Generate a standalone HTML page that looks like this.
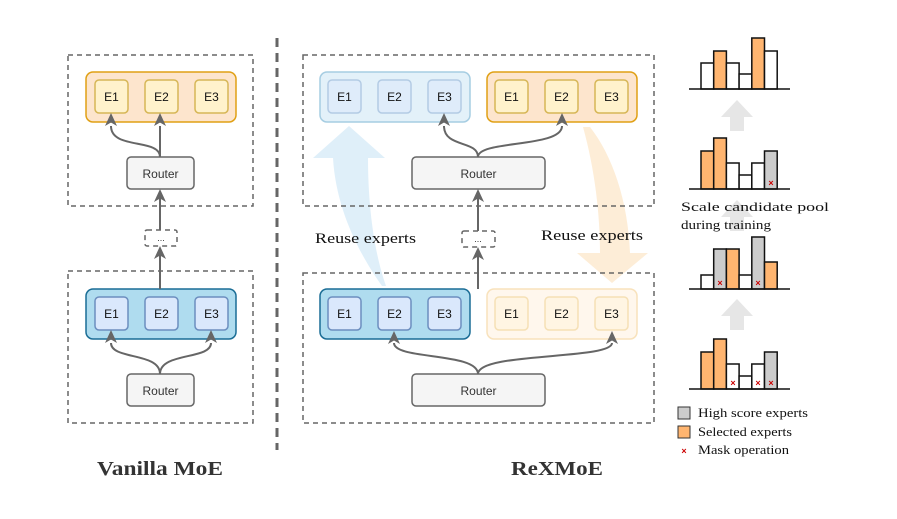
<!DOCTYPE html>
<html><head><meta charset="utf-8"><style>
html,body{margin:0;padding:0;background:#fff;}
svg{display:block}
.sans{font-family:"Liberation Sans",Helvetica,sans-serif;}
.serif{font-family:"Liberation Serif","DejaVu Serif",serif;}
</style></head><body>
<svg width="897" height="519" viewBox="0 0 897 519" xmlns="http://www.w3.org/2000/svg">
<defs>
<g id="hd"><path d="M0,0 L-6,13 L0,9.5 L6,13 Z" fill="#666"/></g>
</defs>

<!-- big reuse arrows -->
<path d="M349,126 L385,158 L368,158 C368,210 375,255 386,286 L382,286 C360,255 336,210 333,158 L313,158 Z" fill="#dcedf8" opacity="0.9"/>
<path d="M583,127 C595,170 600,215 600,253 L577,253 L612,283 L648,253 L630,253 C628,200 612,155 590,127 Z" fill="#fdebd3" opacity="0.9"/>

<!-- divider -->
<line x1="277" y1="38" x2="277" y2="450" stroke="#666" stroke-width="3" stroke-dasharray="9,6"/>

<g fill="none" stroke="#666" stroke-width="1.5" stroke-dasharray="5,4">
<rect x="68" y="55" width="185" height="151"/>
<rect x="68" y="271" width="185" height="152"/>
<rect x="303" y="55" width="351" height="151"/>
<rect x="303" y="273" width="351" height="150"/>
<rect x="145" y="230" width="32" height="16" rx="2"/>
<rect x="462" y="231" width="33" height="16" rx="2"/>
</g>
<g class="sans" font-size="9" text-anchor="middle" fill="#333">
<text x="161" y="241">...</text><text x="478" y="242">...</text></g>

<!-- groups -->
<rect x="86" y="72" width="150" height="50" rx="7" fill="#fde5cd" stroke="#e0a015" stroke-width="1.5"/>
<rect x="86" y="289" width="150" height="50" rx="7" fill="#afdcef" stroke="#1a6d95" stroke-width="1.5"/>
<rect x="320" y="72" width="150" height="50" rx="7" fill="#e3f1f9" stroke="#a6cde2" stroke-width="1.5"/>
<rect x="487" y="72" width="150" height="50" rx="7" fill="#fde5cd" stroke="#e0a015" stroke-width="1.5"/>
<rect x="320" y="289" width="150" height="50" rx="7" fill="#afdcef" stroke="#1a6d95" stroke-width="1.5"/>
<rect x="487" y="289" width="150" height="50" rx="7" fill="#fff7ed" stroke="#f8e2bc" stroke-width="1.5"/>

<!-- experts -->
<g stroke-width="1.5">
<g fill="#fff2cc" stroke="#d6b656">
<rect x="95" y="80" width="33" height="33" rx="4"/><rect x="145" y="80" width="33" height="33" rx="4"/><rect x="195" y="80" width="33" height="33" rx="4"/>
<rect x="495" y="80" width="33" height="33" rx="4"/><rect x="545" y="80" width="33" height="33" rx="4"/><rect x="595" y="80" width="33" height="33" rx="4"/>
</g>
<g fill="#dae8fc" stroke="#6c8ebf">
<rect x="95" y="297" width="33" height="33" rx="4"/><rect x="145" y="297" width="33" height="33" rx="4"/><rect x="195" y="297" width="33" height="33" rx="4"/>
<rect x="328" y="297" width="33" height="33" rx="4"/><rect x="378" y="297" width="33" height="33" rx="4"/><rect x="428" y="297" width="33" height="33" rx="4"/>
</g>
<g fill="#dfecfa" stroke="#b3cbe4">
<rect x="328" y="80" width="33" height="33" rx="4"/><rect x="378" y="80" width="33" height="33" rx="4"/><rect x="428" y="80" width="33" height="33" rx="4"/>
</g>
<g fill="#fff5e3" stroke="#f5e0b5">
<rect x="495" y="297" width="33" height="33" rx="4"/><rect x="545" y="297" width="33" height="33" rx="4"/><rect x="595" y="297" width="33" height="33" rx="4"/>
</g>
</g>
<g class="sans" font-size="12" text-anchor="middle" fill="#111">
<text x="111.5" y="101">E1</text><text x="161.5" y="101">E2</text><text x="211.5" y="101">E3</text>
<text x="111.5" y="318">E1</text><text x="161.5" y="318">E2</text><text x="211.5" y="318">E3</text>
<text x="344.5" y="101">E1</text><text x="394.5" y="101">E2</text><text x="444.5" y="101">E3</text>
<text x="511.5" y="101">E1</text><text x="561.5" y="101">E2</text><text x="611.5" y="101">E3</text>
<text x="344.5" y="318">E1</text><text x="394.5" y="318">E2</text><text x="444.5" y="318">E3</text>
<text x="511.5" y="318">E1</text><text x="561.5" y="318">E2</text><text x="611.5" y="318">E3</text>
</g>

<!-- routers -->
<g fill="#f5f5f5" stroke="#666" stroke-width="1.5">
<rect x="127" y="157" width="67" height="32" rx="4"/>
<rect x="127" y="374" width="67" height="32" rx="4"/>
<rect x="412" y="157" width="133" height="32" rx="4"/>
<rect x="412" y="374" width="133" height="32" rx="4"/>
</g>
<g class="sans" font-size="12" text-anchor="middle" fill="#333">
<text x="160.5" y="178">Router</text><text x="160.5" y="395">Router</text>
<text x="478.5" y="178">Router</text><text x="478.5" y="395">Router</text>
</g>

<!-- connectors -->
<g fill="none" stroke="#666" stroke-width="2">
<path d="M160,157 C160,138 111,150 111,126"/>
<path d="M160,157 L160,126"/>
<path d="M160,230 L160,194"/>
<path d="M160,289 L160,250"/>
<path d="M160,374 C160,352 111,360 111,343"/>
<path d="M211,343 C211,360 160,352 160,374"/>
<path d="M478,157 C478,140 444,148 444,126"/>
<path d="M478,157 C478,140 562,148 562,126"/>
<path d="M478,231 L478,194"/>
<path d="M478,289 L478,251"/>
<path d="M478,374 C478,352 394,360 394,343"/>
<path d="M612,343 C612,360 478,352 478,374"/>
</g>
<g>
<use href="#hd" x="111" y="113"/><use href="#hd" x="160" y="113"/>
<use href="#hd" x="160" y="189"/><use href="#hd" x="160" y="246"/>
<use href="#hd" x="111" y="330"/><use href="#hd" x="211" y="330"/>
<use href="#hd" x="444" y="113"/><use href="#hd" x="562" y="113"/>
<use href="#hd" x="478" y="189"/><use href="#hd" x="478" y="247"/>
<use href="#hd" x="394" y="331"/><use href="#hd" x="612" y="331"/>
</g>

<g class="serif" font-size="15" fill="#111">
<text x="315" y="243" textLength="101" lengthAdjust="spacingAndGlyphs">Reuse experts</text>
<text x="541" y="240" textLength="102" lengthAdjust="spacingAndGlyphs">Reuse experts</text>
</g>
<g class="serif" font-size="20" font-weight="bold" fill="#333">
<text x="97" y="475" textLength="126" lengthAdjust="spacingAndGlyphs">Vanilla MoE</text>
<text x="511" y="475" textLength="92" lengthAdjust="spacingAndGlyphs">ReXMoE</text>
</g>

<!-- right side gray arrows -->
<g fill="#e6e6e6">
<path d="M737,100 L753,117 L744,117 L744,131 L730,131 L730,117 L721,117 Z"/>
<path d="M737,200 L753,217 L744,217 L744,231 L730,231 L730,217 L721,217 Z"/>
<path d="M737,299 L753,316 L744,316 L744,330 L730,330 L730,316 L721,316 Z"/>
</g>

<!-- bar charts -->
<g stroke="#111" stroke-width="1.5">
<rect x="701" y="63" width="12.7" height="26" fill="#fff"/>
<rect x="713.7" y="51" width="12.7" height="38" fill="#ffb570"/>
<rect x="726.4" y="63" width="12.7" height="26" fill="#fff"/>
<rect x="739.1" y="74" width="12.7" height="15" fill="#fff"/>
<rect x="751.8" y="38" width="12.7" height="51" fill="#ffb570"/>
<rect x="764.5" y="51" width="12.7" height="38" fill="#fff"/>
<rect x="701" y="151" width="12.7" height="38" fill="#ffb570"/>
<rect x="713.7" y="138" width="12.7" height="51" fill="#ffb570"/>
<rect x="726.4" y="163" width="12.7" height="26" fill="#fff"/>
<rect x="739.1" y="175" width="12.7" height="14" fill="#fff"/>
<rect x="751.8" y="163" width="12.7" height="26" fill="#fff"/>
<rect x="764.5" y="151" width="12.7" height="38" fill="#cccccc"/>
<rect x="701" y="275" width="12.7" height="14" fill="#fff"/>
<rect x="713.7" y="249" width="12.7" height="40" fill="#cccccc"/>
<rect x="726.4" y="249" width="12.7" height="40" fill="#ffb570"/>
<rect x="739.1" y="275" width="12.7" height="14" fill="#fff"/>
<rect x="751.8" y="237" width="12.7" height="52" fill="#cccccc"/>
<rect x="764.5" y="262" width="12.7" height="27" fill="#ffb570"/>
<rect x="701" y="352" width="12.7" height="37" fill="#ffb570"/>
<rect x="713.7" y="339" width="12.7" height="50" fill="#ffb570"/>
<rect x="726.4" y="364" width="12.7" height="25" fill="#fff"/>
<rect x="739.1" y="376" width="12.7" height="13" fill="#fff"/>
<rect x="751.8" y="364" width="12.7" height="25" fill="#fff"/>
<rect x="764.5" y="352" width="12.7" height="37" fill="#cccccc"/>
<line x1="689" y1="89" x2="790" y2="89"/>
<line x1="689" y1="189" x2="790" y2="189"/>
<line x1="689" y1="289" x2="790" y2="289"/>
<line x1="689" y1="389" x2="790" y2="389"/>
<rect x="678" y="407" width="12" height="12" fill="#cccccc" stroke="#333" stroke-width="1"/>
<rect x="678" y="426" width="12" height="12" fill="#ffb570" stroke="#333" stroke-width="1"/>
</g>
<g class="sans" font-size="9" font-weight="bold" fill="#c00" text-anchor="middle">
<text x="771" y="186">×</text>
<text x="720" y="286">×</text><text x="758" y="286">×</text>
<text x="733" y="386">×</text><text x="758" y="386">×</text><text x="771" y="386">×</text>
<text x="684" y="454">×</text>
</g>
<g class="serif" font-size="13" fill="#111">
<text x="681" y="211" textLength="148" lengthAdjust="spacingAndGlyphs">Scale candidate pool</text>
<text x="681" y="229" textLength="90" lengthAdjust="spacingAndGlyphs">during training</text>
<text x="698" y="417" textLength="110" lengthAdjust="spacingAndGlyphs">High score experts</text>
<text x="698" y="436" textLength="94" lengthAdjust="spacingAndGlyphs">Selected experts</text>
<text x="698" y="454" textLength="91" lengthAdjust="spacingAndGlyphs">Mask operation</text>
</g>
</svg>
</body></html>
